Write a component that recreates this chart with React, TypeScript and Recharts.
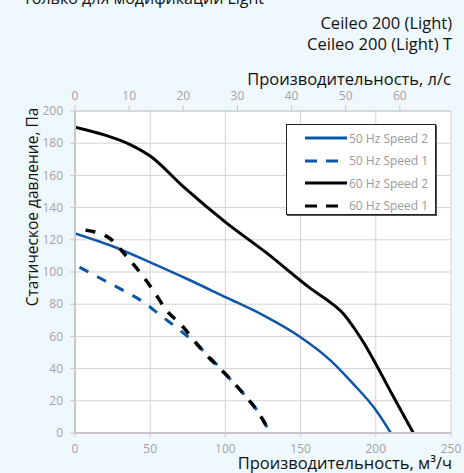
import {
  LineChart,
  Line,
  XAxis,
  YAxis,
  CartesianGrid,
  Legend,
} from "recharts";

// flow, m3/h
const q50s2 = [0, 25, 50, 75, 100, 125, 150, 170, 185, 200, 210];
const p50s2 = [124, 116, 106, 95.5, 84.4, 73.2, 59.5, 45, 30.5, 14.3, 0];

const q50s1 = [3, 19, 32, 46, 57, 70, 90, 101, 111, 120, 128];
const p50s1 = [103, 95, 88.6, 81, 73, 63.7, 46.8, 35.7, 25.4, 15.5, 3];

const q60s2 = [0, 20, 37, 50, 72, 100, 128, 157, 170, 179, 185, 192, 199, 212, 225];
const p60s2 = [190, 185, 179, 172, 153, 131, 111.4, 89.5, 81, 73.5, 66, 56, 44.5, 22, 0];

const q60s1 = [7, 23, 34, 43, 52, 61, 71, 81, 92, 101, 112, 121, 130];
const p60s1 = [126, 121, 110, 100, 88.6, 76, 66.8, 55.4, 44, 35.7, 24.4, 14, 0];

const bottomTicks = [0, 50, 100, 150, 200, 250];
const topTicks = [0, 10, 20, 30, 40, 50, 60];
const pressureTicks = [0, 20, 40, 60, 80, 100, 120, 140, 160, 180, 200];

const BLUE = "#0b56a6";
const FONT = '"Open Sans", "Noto Sans", sans-serif';
const M3H_PER_LS = 3.6;

const toRows = (q: number[], p: number[]) => q.map((x, i) => ({ q: x, p: p[i] }));

const series = [
  { name: "50 Hz Speed 2", color: BLUE, dash: undefined, width: 2.5, data: toRows(q50s2, p50s2) },
  { name: "50 Hz Speed 1", color: BLUE, dash: "10 10", width: 3, data: toRows(q50s1, p50s1) },
  { name: "60 Hz Speed 2", color: "#000", dash: undefined, width: 3, data: toRows(q60s2, p60s2) },
  { name: "60 Hz Speed 1", color: "#000", dash: "10 10", width: 3.5, data: toRows(q60s1, p60s1) },
];

// same curve in l/s, only so the top axis has something to scale against
const topAxisRows = q60s2.map((x, i) => ({ q: x / M3H_PER_LS, p: p60s2[i] }));

const tickStyle = { fill: "#a3a3a3", fontSize: 12, fontFamily: FONT };

function LegendBox() {
  return (
    <div
      style={{
        width: 150,
        height: 91,
        background: "#fff",
        border: "1px solid #222",
        boxShadow: "1px 1px 0 #555",
        fontFamily: FONT,
        fontSize: 12,
        color: "#9a9a9a",
        padding: "2px 0 0 0",
        boxSizing: "border-box",
      }}
    >
      {series.map((s) => (
        <div key={s.name} style={{ display: "flex", alignItems: "center", height: 22.5 }}>
          <svg width={62} height={10}>
            <line
              x1={18}
              x2={60}
              y1={5}
              y2={5}
              stroke={s.color}
              strokeWidth={3}
              strokeDasharray={s.dash ? "12 9" : undefined}
            />
          </svg>
          <span>{s.name}</span>
        </div>
      ))}
    </div>
  );
}

export default function App() {
  return (
    <div
      style={{
        position: "absolute",
        left: 0,
        top: 0,
        width: 464,
        height: 473,
        background: "#eef8fd",
        overflow: "hidden",
        fontFamily: FONT,
      }}
    >
      <div style={{ position: "absolute", left: 23, top: -13, fontSize: 16, color: "#111" }}>
        Только для модификации Light
      </div>
      <div
        style={{
          position: "absolute",
          right: 12,
          top: 12,
          fontSize: 16.5,
          lineHeight: "21px",
          textAlign: "right",
          color: "#111",
        }}
      >
        Ceileo 200 (Light)
        <br />
        Ceileo 200 (Light) T
      </div>
      <div
        style={{
          position: "absolute",
          right: 13,
          top: 70,
          fontSize: 16.5,
          lineHeight: "18px",
          color: "#111",
        }}
      >
        Производительность, л/с
      </div>

      <LineChart
        width={464}
        height={473}
        margin={{ top: 91, right: 13, left: 30, bottom: 20 }}
      >
        <CartesianGrid fill="#fff" stroke="#d2d2d2" strokeWidth={1} />
        <XAxis
          dataKey="q"
          type="number"
          domain={[0, 250]}
          ticks={bottomTicks}
          height={20}
          tick={tickStyle}
          tickSize={4}
          tickMargin={7}
          axisLine={{ stroke: "#c8c8c8", strokeWidth: 2 }}
          tickLine={{ stroke: "#c8c8c8" }}
          allowDataOverflow
        />
        <XAxis
          xAxisId="top"
          dataKey="q"
          orientation="top"
          type="number"
          domain={[0, 250 / M3H_PER_LS]}
          ticks={topTicks}
          height={20}
          tick={tickStyle}
          tickSize={6}
          tickMargin={5}
          axisLine={{ stroke: "#c8c8c8" }}
          tickLine={{ stroke: "#c8c8c8" }}
          allowDataOverflow
        />
        <YAxis
          type="number"
          domain={[0, 200]}
          ticks={pressureTicks}
          width={45}
          tick={tickStyle}
          tickSize={5}
          tickMargin={7}
          axisLine={{ stroke: "#c8c8c8", strokeWidth: 2 }}
          tickLine={{ stroke: "#c8c8c8" }}
        />
        <Line
          xAxisId="top"
          data={topAxisRows}
          dataKey="p"
          stroke="none"
          dot={false}
          activeDot={false}
          legendType="none"
          isAnimationActive={false}
        />
        {series.map((s) => (
          <Line
            key={s.name}
            name={s.name}
            data={s.data}
            dataKey="p"
            type="monotone"
            stroke={s.color}
            strokeWidth={s.width}
            strokeDasharray={s.dash}
            dot={false}
            activeDot={false}
            isAnimationActive={false}
          />
        ))}
        <Legend
          layout="vertical"
          align="center"
          verticalAlign="middle"
          content={() => <LegendBox />}
          wrapperStyle={{ left: 286, top: 124, width: 152, height: 93 }}
        />
      </LineChart>

      <div
        style={{
          position: "absolute",
          left: 32,
          top: 207,
          transform: "translate(-50%, -50%) rotate(-90deg)",
          whiteSpace: "nowrap",
          fontSize: 15.5,
          color: "#111",
        }}
      >
        Статическое давление, Па
      </div>
      <div
        style={{
          position: "absolute",
          right: 12,
          top: 454,
          fontSize: 16.5,
          lineHeight: "17px",
          color: "#111",
        }}
      >
        Производительность, м³/ч
      </div>
    </div>
  );
}
